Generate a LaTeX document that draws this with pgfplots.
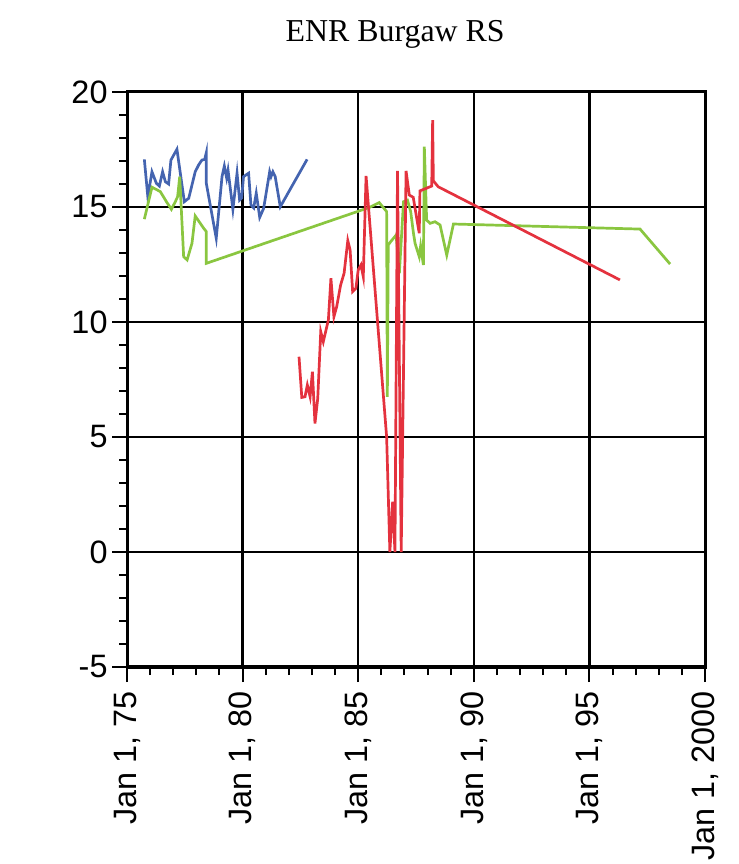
\documentclass[border=0pt]{standalone}
\usepackage{fontspec}
\setmainfont{Liberation Sans}
\newfontfamily\titlefont{Liberation Serif}
\usepackage{pgfplots}
\pgfplotsset{compat=1.18}
\definecolor{cblue}{RGB}{68,100,176}
\definecolor{cgreen}{RGB}{138,198,64}
\definecolor{cred}{RGB}{228,50,62}

\begin{document}
\begin{tikzpicture}
\useasboundingbox (0bp,0bp) rectangle (739bp,864bp);
\begin{axis}[
	at={(127bp,197bp)}, anchor=south west,
	width=578bp, height=575bp, scale only axis,
	xmin=1975, xmax=2000, ymin=-5, ymax=20,
	xtick={1975,1980,1985,1990,1995,2000},
	xticklabels={{Jan 1, 75},{Jan 1, 80},{Jan 1, 85},{Jan 1, 90},{Jan 1, 95},{Jan 1, 2000}},
	ytick={-5,0,5,10,15,20},
	minor x tick num=4, minor y tick num=4,
	tick align=outside, xtick pos=bottom, ytick pos=left,
	major tick length=15bp, minor tick length=8bp,
	every tick/.style={black, line width=2bp},
	grid=major, major grid style={black, line width=2.3bp},
	axis line style={line width=3bp},
	/pgf/number format/assume math mode=true,
	ticklabel style={font=\fontsize{32.5}{38}\selectfont},
	xticklabel style={rotate=90, anchor=east},
	xticklabel shift=6bp,
	yticklabel shift=1bp,
	title={ENR Burgaw RS},
	title style={font=\titlefont\fontsize{32}{38}\selectfont, at={(0.464,1)}, anchor=base, yshift=45bp},
	every axis plot/.append style={line width=2.7bp, mark=none},
]
% blue series
\addplot[cblue] coordinates {
(1975.75,17.07)(1975.90,15.45)(1976.08,16.53)(1976.27,16.03)(1976.40,15.91)
(1976.54,16.53)(1976.66,16.10)(1976.80,16.00)(1976.90,17.04)(1977.16,17.51)
(1977.48,15.23)(1977.67,15.38)(1977.95,16.53)(1978.10,16.83)(1978.24,17.04)
(1978.36,17.07)(1978.43,17.36)(1978.43,16.03)(1978.86,13.64)(1979.11,16.32)
(1979.21,16.78)(1979.31,16.26)(1979.37,16.60)(1979.58,14.90)(1979.76,16.47)
(1979.87,15.30)(1979.96,15.39)(1980.04,16.32)(1980.26,16.47)(1980.36,15.09)
(1980.48,14.96)(1980.59,15.60)(1980.74,14.55)(1980.91,14.94)(1981.17,16.53)
(1981.23,16.32)(1981.31,16.53)(1981.41,16.32)(1981.63,15.01)(1982.79,17.07)
};
% green series
\addplot[cgreen] coordinates {
(1975.75,14.47)(1976.08,15.86)(1976.44,15.67)(1976.73,15.19)(1976.92,14.90)
(1977.09,15.23)(1977.19,15.45)(1977.28,16.32)(1977.45,12.84)(1977.60,12.70)
(1977.81,13.42)(1977.95,14.61)(1978.32,14.07)(1978.43,13.93)(1978.43,12.55)
(1985.51,14.99)(1985.91,15.19)(1986.23,14.80)(1986.26,6.75)(1986.30,13.35)
(1986.41,13.50)(1986.64,13.78)(1986.78,12.12)(1986.96,15.23)(1987.13,15.30)
(1987.27,14.80)(1987.39,13.86)(1987.46,13.42)(1987.64,12.84)(1987.70,13.30)
(1987.82,12.48)(1987.86,17.62)(1987.96,14.43)(1988.11,14.29)(1988.32,14.36)
(1988.54,14.22)(1988.83,12.91)(1989.12,14.26)(1997.19,14.04)(1998.49,12.52)
};
% red series
\addplot[cred] coordinates {
(1982.44,8.49)(1982.56,6.72)(1982.70,6.75)(1982.80,7.26)(1982.92,6.75)
(1983.02,7.84)(1983.13,5.59)(1983.25,6.68)(1983.38,9.58)(1983.49,9.14)
(1983.71,10.09)(1983.82,11.90)(1983.95,10.23)(1984.07,10.67)(1984.24,11.61)
(1984.39,12.12)(1984.55,13.54)(1984.65,13.13)(1984.76,11.32)(1984.90,11.46)
(1985.00,12.26)(1985.12,12.48)(1985.22,11.97)(1985.34,16.35)(1986.23,5.00)
(1986.37,0.00)(1986.49,2.19)(1986.59,0.00)(1986.70,16.57)(1986.86,0.00)
(1987.07,16.57)(1987.21,15.52)(1987.38,15.42)(1987.64,13.86)(1987.67,15.70)
(1988.18,15.91)(1988.22,18.78)(1988.25,16.14)(1988.46,15.88)(1996.32,11.83)
};
\end{axis}
\end{tikzpicture}
\end{document}
